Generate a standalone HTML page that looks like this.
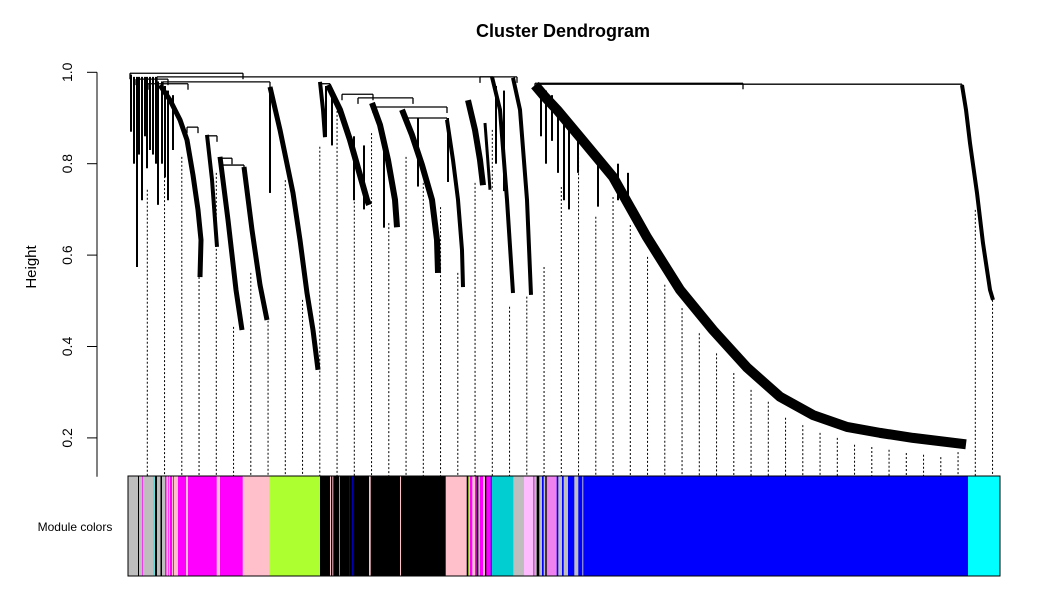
<!DOCTYPE html>
<html><head><meta charset="utf-8"><style>
body{margin:0;background:#fff;}
svg{display:block;font-family:"Liberation Sans",Arial,sans-serif;}
</style></head><body>
<svg id="chart" width="1053" height="596" viewBox="0 0 1053 596">
<rect width="1053" height="596" fill="#fff"/>
<text x="563" y="37" text-anchor="middle" font-size="18" font-weight="bold">Cluster Dendrogram</text>
<text transform="translate(36,267) rotate(-90)" text-anchor="middle" font-size="15">Height</text>
<text x="75" y="531" text-anchor="middle" font-size="12">Module colors</text>
<g id="axis"></g>
<g id="dashes"></g>
<g id="tree"></g>
<g id="bar"></g>
</svg>
<script>
const yTicks = [0.2, 0.4, 0.6, 0.8, 1.0];
const tickLabels = ["0.2", "0.4", "0.6", "0.8", "1.0"];
const dashTopH = [0.743,0.939,0.815,0.552,0.780,0.443,0.561,0.465,0.764,0.502,0.837,0.933,0.743,0.867,0.670,0.815,0.758,0.705,0.561,0.758,0.874,0.487,0.509,0.574,0.749,0.823,0.684,0.727,0.666,0.596,0.535,0.484,0.429,0.385,0.342,0.305,0.279,0.244,0.228,0.211,0.200,0.185,0.180,0.174,0.167,0.163,0.158,0.169,0.699,0.502];
const ribbonPts = [
 [[32,0.972],[42,0.939],[52,0.896],[59,0.852],[65,0.775],[70,0.699],[73,0.633],[72,0.552]],
 [[79,0.863],[84,0.765],[89,0.618]],
 [[92,0.815],[100,0.677],[108,0.524],[114,0.436]],
 [[116,0.793],[124,0.655],[132,0.535],[139,0.458]],
 [[142,0.968],[152,0.874],[165,0.736],[172,0.633],[179,0.517],[185,0.436],[190,0.349]],
 [[192,0.979],[195,0.918],[197,0.858]],
 [[200,0.972],[212,0.918],[222,0.852],[232,0.775],[239,0.721],[241,0.71]],
 [[244,0.933],[252,0.885],[260,0.808],[267,0.721],[269,0.661]],
 [[274,0.918],[284,0.863],[294,0.797],[304,0.721],[309,0.633],[310,0.561]],
 [[319,0.896],[325,0.808],[330,0.721],[334,0.611],[335,0.530]],
 [[340,0.939],[347,0.874],[352,0.808],[355,0.753]],
 [[357,0.889],[362,0.743]],
 [[364,0.990],[372,0.918],[379,0.721],[385,0.517]],
 [[385,0.988],[392,0.918],[399,0.721],[403,0.513]],
 [[407,0.972],[417,0.946],[429,0.918],[452,0.858],[485,0.771],[519,0.639],[552,0.524],[585,0.436],[619,0.354],[652,0.290],[685,0.250],[719,0.224],[752,0.211],[785,0.200],[838,0.186]],
 [[834,0.972],[838,0.918],[842,0.845],[849,0.736],[855,0.626],[862,0.524],[865,0.502]]
];
const ribbonW = [5,4,5,5,5,4,6,6,6,4,6,3,4,4,10,4];
const mergeFrom = [2,29,35,352,409,407,214,230,245,279,59,79,92,93,192,8,20];
const mergeTo   = [115,365,142,389,834,615,245,285,319,319,70,89,104,116,202,40,60];
const mergeH    = [0.998,0.990,0.979,0.990,0.974,0.976,0.952,0.944,0.924,0.900,0.880,0.861,0.812,0.797,0.975,0.985,0.975];
const spikeX   = [3,6,9,11,14,17,19,22,25,28,30,34,37,40,45,142,198,204,226,236,256,290,320,368,376,413,418,424,430,436,441,450,470,490,500];
const spikeTop = [0.995,0.99,0.99,0.99,0.99,0.99,0.99,0.99,0.99,0.99,0.98,0.98,0.97,0.96,0.95,0.968,0.97,0.95,0.86,0.84,0.84,0.90,0.90,0.97,0.96,0.97,0.96,0.95,0.92,0.89,0.88,0.86,0.82,0.80,0.78];
const spikeBot = [0.87,0.80,0.574,0.82,0.72,0.86,0.79,0.83,0.82,0.80,0.71,0.80,0.77,0.72,0.83,0.736,0.86,0.84,0.72,0.70,0.66,0.75,0.76,0.80,0.74,0.86,0.80,0.85,0.78,0.72,0.70,0.78,0.706,0.72,0.70];
const segEnd = [10,11,14,14.7,17,25,26.5,27,29,32.5,34,37,38.5,40,40.7,42,44,45,46,48,50,58,60,62,88.7,92,114.7,141.3,192,202,203,204.3,205.3,211,211.7,221.3,222,224.3,225.3,241,242.7,272,273,317.7,338.7,340.3,342,344.3,347,348.7,350.3,352,355,357,358.3,362.7,363.7,385.3,396,405.3,406.3,408.7,411.3,414,415.7,417.3,418.7,428.7,430.3,434,435.7,440,446.3,450.3,454.3,455.3,459.3,840,872];
const segColor = ["#BEBEBE","#000000","#BEBEBE","#FF00FF","#BEBEBE","#BEBEBE","#00FFFF","#BEBEBE","#000000","#BEBEBE","#000000","#BEBEBE","#FF00FF","#FFC0CB","#FF00FF","#FFC0CB","#FF00FF","#FFC0CB","#FF00FF","#FFC0CB","#FFC0CB","#FF00FF","#FFC0CB","#FF00FF","#FF00FF","#FFC0CB","#FF00FF","#FFC0CB","#ADFF2F","#000000","#FFC0CB","#000000","#FFC0CB","#000000","#FFC0CB","#000000","#0000FF","#000000","#0000FF","#000000","#FFC0CB","#000000","#FFC0CB","#000000","#FFC0CB","#000000","#ADFF2F","#FF00FF","#FFC0CB","#FF00FF","#000000","#BEBEBE","#FF00FF","#FFC0CB","#000000","#FF00FF","#0000FF","#00CED1","#BEBEBE","#FFBBFF","#FF00FF","#BEBEBE","#000000","#BEBEBE","#0000FF","#BEBEBE","#000000","#EE82EE","#0000FF","#BEBEBE","#0000FF","#BEBEBE","#0000FF","#BEBEBE","#0000FF","#BEBEBE","#0000FF","#0000FF","#00FFFF"];

const NS = "http://www.w3.org/2000/svg";
const X0 = 128, Y1 = 72.3, PX = 457;
function xs(r){ return X0 + r; }
function ys(h){ return Y1 + (1 - h) * PX; }
function mk(tag, attrs, parent){ const e = document.createElementNS(NS, tag); for (const k in attrs) e.setAttribute(k, attrs[k]); parent.appendChild(e); return e; }

const axis = document.getElementById('axis');
const al = mk('line', {x1:97, x2:97, y1:ys(1.0), y2:476.7, stroke:'#000', 'stroke-width':1}, axis);


yTicks.forEach((t, i) => {
  const tk = mk('line', {x1:87, x2:97, y1:ys(t), y2:ys(t), stroke:'#000'}, axis);
  
  
  const tl = mk('text', {transform:`translate(72,${ys(t)}) rotate(-90)`, 'text-anchor':'middle', 'font-size':14}, axis);
  tl.textContent = tickLabels[i];
  
  
});

const dashes = document.getElementById('dashes');
dashTopH.forEach((h, i) => {
  const x = xs(19.3 + i * 17.25);
  const d = mk('line', {x1:x, x2:x, y1:ys(h), y2:476, stroke:'#000', 'stroke-width':1, 'stroke-dasharray':'2,2'}, dashes);
  
  
});

const tree = document.getElementById('tree');
mergeH.forEach((h, i) => {
  const m = mk('line', {x1:xs(mergeFrom[i]), x2:xs(mergeTo[i]), y1:ys(h), y2:ys(h), stroke:'#000', 'stroke-width':1.3}, tree);
  
  
  [mergeFrom[i], mergeTo[i]].forEach(r => {
    const v = mk('line', {x1:xs(r), x2:xs(r), y1:ys(h), y2:ys(h) + 6, stroke:'#000', 'stroke-width':1.3}, tree);
    
    
  });
});
spikeX.forEach((r, i) => {
  const s = mk('line', {x1:xs(r), x2:xs(r), y1:ys(spikeTop[i]), y2:ys(spikeBot[i]), stroke:'#000', 'stroke-width':2}, tree);
  
  
});
ribbonPts.forEach((pts, i) => {
  const p = mk('polyline', {points: pts.map(q => xs(q[0]) + ',' + ys(q[1])).join(' '), fill:'none', stroke:'#000', 'stroke-width':ribbonW[i], 'stroke-linejoin':'round', 'stroke-linecap':'butt'}, tree);
  
  
});

const bar = document.getElementById('bar');
let prev = 0;
segEnd.forEach((e, i) => {
  const r = mk('rect', {x:xs(prev), y:476, width:Math.max(0.5, e - prev) + 0.3, height:100, fill:segColor[i]}, bar);
  
  
  prev = e;
});
const fr = mk('rect', {x:128, y:476, width:872, height:100, fill:'none', stroke:'#000', 'stroke-width':1}, bar);


</script>
</body></html>
